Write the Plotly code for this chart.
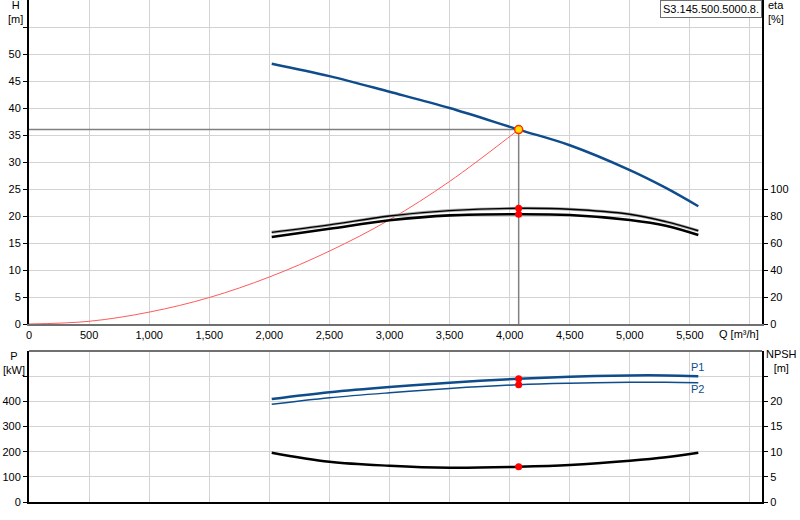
import plotly.graph_objects as go

# ---------------- data ----------------
q_curve = [2020, 2500, 3000, 3500, 4075, 4500, 5000, 5300, 5570]
head = [48.2, 45.9, 43.0, 40.0, 36.0, 33.1, 28.5, 25.2, 21.8]
eta_upper = [67.9, 73.4, 80.0, 84.0, 85.7, 85.0, 81.3, 75.8, 69.1]
eta_lower = [64.4, 70.5, 76.8, 80.5, 81.3, 80.7, 77.0, 72.8, 65.9]
p1 = [409, 436, 457, 474, 490, 498, 503, 503, 500]
p2 = [388, 414, 434, 451, 466, 472, 476, 476, 474]
npsh = [9.8, 8.0, 7.2, 6.8, 7.0, 7.35, 8.2, 8.9, 9.8]

q_system = [0, 500, 1000, 1500, 2000, 2500, 3000, 3500, 4075]
h_system = [0, 0.5, 2.2, 4.9, 8.7, 13.5, 19.3, 26.4, 36.0]

q_op = 4075
h_op = 36.0
eta_op = [85.7, 81.3]
p_op = [490, 466]
npsh_op = 7.0

x_ticks = [0, 500, 1000, 1500, 2000, 2500, 3000, 3500, 4000, 4500, 5000, 5500, 6000]
x_ticklabels = ["0", "500", "1,000", "1,500", "2,000", "2,500", "3,000", "3,500",
                "4,000", "4,500", "5,000", "5,500", ""]
h_ticks = [0, 5, 10, 15, 20, 25, 30, 35, 40, 45, 50, 55]
h_ticklabels = ["0", "5", "10", "15", "20", "25", "30", "35", "40", "45", "50", ""]
eta_ticks = [0, 20, 40, 60, 80, 100]
p_ticks = [0, 100, 200, 300, 400, 500]
p_ticklabels = ["0", "100", "200", "300", "400", ""]
npsh_ticks = [0, 5, 10, 15, 20, 25]
npsh_ticklabels = ["0", "5", "10", "15", "20", ""]

BLUE = "#0e4c8c"
FONT = "Liberation Sans, Arial, sans-serif"

# ---------------- layout geometry ----------------
W, H = 800, 520
ML, MR, MT, MB = 29, 38, 0, 18
PW, PH = W - ML - MR, H - MT - MB


def px(x):
    return (x - ML) / PW


def py(y):
    return (H - MB - y) / PH


top_dom = [py(324), 1.0]
bot_dom = [0.0, py(351)]

fig = go.Figure()

# ---- top chart ----
fig.add_trace(go.Scatter(x=[0, q_op], y=[h_op, h_op], mode="lines",
                         line=dict(color="#808080", width=1.5), xaxis="x", yaxis="y",
                         hoverinfo="skip"))
fig.add_trace(go.Scatter(x=[q_op, q_op], y=[0, h_op], mode="lines",
                         line=dict(color="#808080", width=1.5), xaxis="x", yaxis="y",
                         hoverinfo="skip"))
fig.add_trace(go.Scatter(x=q_system, y=h_system, mode="lines", line_shape="spline",
                         line=dict(color="#ff5a5a", width=1), xaxis="x", yaxis="y"))
fig.add_trace(go.Scatter(x=q_curve, y=head, mode="lines", line_shape="spline",
                         line=dict(color=BLUE, width=2.5), xaxis="x", yaxis="y"))
# efficiency curves (right axis)
fig.add_trace(go.Scatter(x=q_curve, y=eta_upper, mode="lines", line_shape="spline",
                         line=dict(color="#a8a8a8", width=3.0), xaxis="x", yaxis="y2"))
fig.add_trace(go.Scatter(x=q_curve, y=eta_upper, mode="lines", line_shape="spline",
                         line=dict(color="#000000", width=1.4), xaxis="x", yaxis="y2"))
fig.add_trace(go.Scatter(x=q_curve, y=eta_lower, mode="lines", line_shape="spline",
                         line=dict(color="#000000", width=2.6), xaxis="x", yaxis="y2"))
fig.add_trace(go.Scatter(x=[q_op, q_op], y=eta_op, mode="markers",
                         marker=dict(color="#ff0000", size=7), xaxis="x", yaxis="y2"))
fig.add_trace(go.Scatter(x=[q_op], y=[h_op], mode="markers",
                         marker=dict(color="#ffe000", size=8,
                                     line=dict(color="#ff3000", width=1.5)),
                         xaxis="x", yaxis="y"))

# ---- bottom chart ----
fig.add_trace(go.Scatter(x=q_curve, y=p1, mode="lines", line_shape="spline",
                         line=dict(color=BLUE, width=2.5), xaxis="x2", yaxis="y3"))
fig.add_trace(go.Scatter(x=q_curve, y=p2, mode="lines", line_shape="spline",
                         line=dict(color=BLUE, width=1.5), xaxis="x2", yaxis="y3"))
fig.add_trace(go.Scatter(x=q_curve, y=npsh, mode="lines", line_shape="spline",
                         line=dict(color="#000000", width=2.5), xaxis="x2", yaxis="y4"))
fig.add_trace(go.Scatter(x=[q_op, q_op], y=p_op, mode="markers",
                         marker=dict(color="#ff0000", size=7), xaxis="x2", yaxis="y3"))
fig.add_trace(go.Scatter(x=[q_op], y=[npsh_op], mode="markers",
                         marker=dict(color="#ff0000", size=7), xaxis="x2", yaxis="y4"))

GRID = "#d3d3d3"
tickfont = dict(family=FONT, size=11, color="#000000")
x_range = [0, 6100]

fig.update_layout(
    width=W, height=H,
    margin=dict(l=ML, r=MR, t=MT, b=MB, pad=0, autoexpand=False),
    paper_bgcolor="white", plot_bgcolor="white",
    showlegend=False,
    font=dict(family=FONT, size=11, color="#000000"),
    xaxis=dict(domain=[0, 1], anchor="y", range=x_range, tickvals=x_ticks,
               ticktext=x_ticklabels, showgrid=True, gridcolor=GRID, gridwidth=1,
               showline=True, linecolor="#707070", linewidth=2, mirror=True,
               ticks="", tickfont=tickfont, zeroline=False, automargin=False),
    yaxis=dict(domain=top_dom, anchor="x", range=[0, 60], tickvals=h_ticks,
               ticktext=h_ticklabels, showgrid=True, gridcolor=GRID, gridwidth=1,
               showline=True, linecolor="#000000", linewidth=2,
               ticks="outside", ticklen=4, tickcolor="#000000", tickfont=tickfont,
               zeroline=False, automargin=False),
    yaxis2=dict(overlaying="y", side="right", anchor="x", range=[0, 240],
                tickvals=eta_ticks, showgrid=False, showline=True,
                linecolor="#000000", linewidth=2, ticks="outside", ticklen=4,
                tickcolor="#000000", tickfont=tickfont, zeroline=False,
                automargin=False),
    xaxis2=dict(domain=[0, 1], anchor="y3", matches="x", range=x_range,
                tickvals=x_ticks, showticklabels=False, showgrid=True,
                gridcolor=GRID, gridwidth=1, showline=True, linecolor="#000000",
                linewidth=2, ticks="", zeroline=False, automargin=False),
    yaxis3=dict(domain=bot_dom, anchor="x2", range=[0, 600], tickvals=p_ticks,
                ticktext=p_ticklabels, showgrid=True, gridcolor=GRID, gridwidth=1,
                showline=True, linecolor="#000000", linewidth=2,
                ticks="outside", ticklen=4, tickcolor="#000000", tickfont=tickfont,
                zeroline=False, automargin=False),
    yaxis4=dict(overlaying="y3", side="right", anchor="x2", range=[0, 30],
                tickvals=npsh_ticks, ticktext=npsh_ticklabels, showgrid=False,
                showline=True, linecolor="#000000", linewidth=2, ticks="outside",
                ticklen=4, tickcolor="#000000", tickfont=tickfont, zeroline=False,
                automargin=False),
)

# top border of the bottom chart (gray)
fig.add_shape(type="line", xref="paper", yref="paper", x0=0, x1=1,
              y0=bot_dom[1], y1=bot_dom[1], line=dict(color="#707070", width=2))

ann = dict(xref="paper", yref="paper", showarrow=False,
           font=dict(family=FONT, size=11, color="#000000"))
fig.add_annotation(text="H<br>[m]", x=px(15), y=py(-3), xanchor="center",
                   yanchor="top", align="center", **ann)
fig.add_annotation(text="eta<br>[%]", x=px(766), y=py(-3), xanchor="left",
                   yanchor="top", align="left", **ann)
fig.add_annotation(text="P<br>[kW]", x=px(14), y=py(348), xanchor="center",
                   yanchor="top", align="center", **ann)
fig.add_annotation(text="NPSH<br>[m]", x=px(781), y=py(346), xanchor="center",
                   yanchor="top", align="center", **ann)
fig.add_annotation(text="Q [m³/h]", x=px(739), y=py(334), xanchor="center",
                   yanchor="middle", **ann)
fig.add_annotation(text="S3.145.500.5000.8.", x=1.0, y=1.0, xanchor="right",
                   yanchor="top", bgcolor="white", bordercolor="#707070",
                   borderwidth=1, borderpad=2, **ann)
fig.add_annotation(text="P1", x=px(689), y=py(367), xanchor="left",
                   yanchor="middle", xref="paper", yref="paper", showarrow=False,
                   font=dict(family=FONT, size=11, color=BLUE))
fig.add_annotation(text="P2", x=px(689), y=py(389), xanchor="left",
                   yanchor="middle", xref="paper", yref="paper", showarrow=False,
                   font=dict(family=FONT, size=11, color=BLUE))

fig.write_html("out.html",
               config={"displayModeBar": False},
               post_script="document.body.style.margin='0';"
                           "document.body.style.overflow='hidden';")
